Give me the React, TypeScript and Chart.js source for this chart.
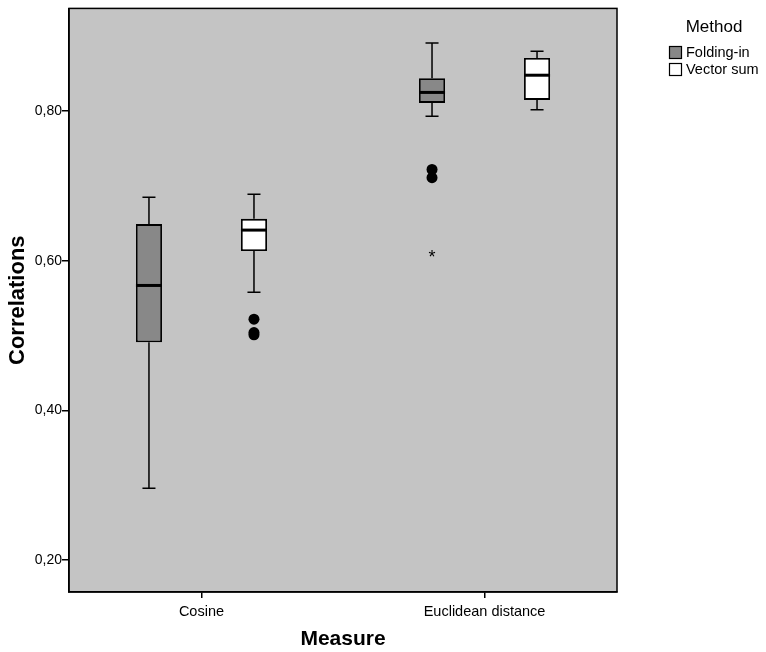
import { useEffect, useRef } from 'react';
import { Chart, registerables } from 'chart.js';

Chart.register(...registerables);

// Box plot summary per measure (Cosine, Euclidean distance)
const categories = ['Cosine', 'Euclidean distance'];
const methods = ['Folding-in', 'Vector sum'];

const foldingMin = [0.296, 0.793];
const foldingQ1 = [0.491, 0.811];
const foldingMedian = [0.567, 0.825];
const foldingQ3 = [0.649, 0.844];
const foldingMax = [0.685, 0.891];
const foldingOutliers = [[], [0.722, 0.711]];
const foldingExtremes = [[], [0.608]];

const vectorMin = [0.558, 0.802];
const vectorQ1 = [0.613, 0.815];
const vectorMedian = [0.641, 0.848];
const vectorQ3 = [0.656, 0.871];
const vectorMax = [0.689, 0.880];
const vectorOutliers = [[0.522, 0.504, 0.501], []];
const vectorExtremes: number[][] = [[], []];

const yTicks = [0.2, 0.4, 0.6, 0.8];

const boxColors = ['#888888', '#ffffff'];
const FONT = "'Liberation Sans', Arial, sans-serif";

const stats = [
  { min: foldingMin, q1: foldingQ1, med: foldingMedian, q3: foldingQ3, max: foldingMax, out: foldingOutliers, ext: foldingExtremes },
  { min: vectorMin, q1: vectorQ1, med: vectorMedian, q3: vectorQ3, max: vectorMax, out: vectorOutliers, ext: vectorExtremes },
];

const plotBackground = {
  id: 'plotBackground',
  beforeDraw(chart: any) {
    const { ctx, chartArea: a } = chart;
    ctx.save();
    ctx.fillStyle = '#c4c4c4';
    ctx.fillRect(a.left, a.top, a.right - a.left, a.bottom - a.top);
    ctx.restore();
  },
  afterDraw(chart: any) {
    const { ctx, chartArea: a } = chart;
    ctx.save();
    ctx.strokeStyle = '#000';
    ctx.lineWidth = 1.5;
    ctx.strokeRect(a.left, a.top, a.right - a.left, a.bottom - a.top);
    ctx.restore();
  },
};

// Whiskers, medians, outliers (circles) and extremes (asterisks)
const boxMarks = {
  id: 'boxMarks',
  beforeDatasetsDraw(chart: any) {
    const { ctx } = chart;
    const y = chart.scales.y;
    ctx.save();
    ctx.strokeStyle = '#000';
    ctx.lineWidth = 1.5;
    stats.forEach((s, di) => {
      const meta = chart.getDatasetMeta(di);
      meta.data.forEach((el: any, i: number) => {
        const cx = el.x;
        const cap = el.width / 2;
        const yMin = y.getPixelForValue(s.min[i]);
        const yMax = y.getPixelForValue(s.max[i]);
        const yQ1 = y.getPixelForValue(s.q1[i]);
        const yQ3 = y.getPixelForValue(s.q3[i]);
        ctx.beginPath();
        ctx.moveTo(cx, yQ3);
        ctx.lineTo(cx, yMax);
        ctx.moveTo(cx - cap / 2, yMax);
        ctx.lineTo(cx + cap / 2, yMax);
        ctx.moveTo(cx, yQ1);
        ctx.lineTo(cx, yMin);
        ctx.moveTo(cx - cap / 2, yMin);
        ctx.lineTo(cx + cap / 2, yMin);
        ctx.stroke();
      });
    });
    ctx.restore();
  },
  afterDatasetsDraw(chart: any) {
    const { ctx } = chart;
    const y = chart.scales.y;
    ctx.save();
    stats.forEach((s, di) => {
      const meta = chart.getDatasetMeta(di);
      meta.data.forEach((el: any, i: number) => {
        const cx = el.x;
        const half = el.width / 2;
        const yMed = y.getPixelForValue(s.med[i]);
        ctx.strokeStyle = '#000';
        ctx.lineWidth = 3;
        ctx.beginPath();
        ctx.moveTo(cx - half, yMed);
        ctx.lineTo(cx + half, yMed);
        ctx.stroke();
        ctx.fillStyle = '#000';
        s.out[i].forEach((v: number) => {
          ctx.beginPath();
          ctx.arc(cx, y.getPixelForValue(v), 5.5, 0, Math.PI * 2);
          ctx.fill();
        });
        ctx.font = `18px ${FONT}`;
        ctx.textAlign = 'center';
        ctx.textBaseline = 'middle';
        s.ext[i].forEach((v: number) => {
          ctx.fillText('*', cx, y.getPixelForValue(v) + 3);
        });
      });
    });
    ctx.restore();
  },
};

const methodLegend = {
  id: 'methodLegend',
  afterDraw(chart: any) {
    const { ctx } = chart;
    ctx.save();
    ctx.fillStyle = '#000';
    ctx.textBaseline = 'middle';
    ctx.textAlign = 'center';
    ctx.font = `17px ${FONT}`;
    ctx.fillText('Method', 714, 27);
    ctx.textAlign = 'left';
    ctx.font = `14.5px ${FONT}`;
    methods.forEach((m, i) => {
      const top = 46 + i * 17;
      ctx.fillStyle = boxColors[i];
      ctx.fillRect(669, top, 13, 13);
      ctx.strokeStyle = '#000';
      ctx.lineWidth = 1.2;
      ctx.strokeRect(669.5, top + 0.5, 12, 12);
      ctx.fillStyle = '#000';
      ctx.fillText(m, 686, top + 7);
    });
    ctx.restore();
  },
};

export default function App() {
  const canvasRef = useRef<HTMLCanvasElement | null>(null);

  useEffect(() => {
    if (!canvasRef.current) return;
    const chart = new Chart(canvasRef.current, {
      type: 'bar',
      data: {
        datasets: methods.map((m, di) => ({
          label: m,
          data: categories.map((_, i) => ({ x: i, y: [stats[di].q1[i], stats[di].q3[i]] })),
          backgroundColor: boxColors[di],
          borderColor: '#000',
          borderWidth: 1.8,
          borderSkipped: false,
          categoryPercentage: 0.742,
          barPercentage: 0.248,
        })) as any,
      },
      options: {
        animation: false,
        responsive: false,
        layout: { padding: { left: 0, top: 7, right: 149, bottom: 0 } },
        plugins: { legend: { display: false }, tooltip: { enabled: false } },
        scales: {
          x: {
            type: 'linear',
            offset: false,
            min: -0.468,
            max: 1.468,
            afterBuildTicks: (scale: any) => {
              scale.ticks = categories.map((_, i) => ({ value: i }));
            },
            afterFit: (scale: any) => {
              scale.height = 60;
            },
            ticks: {
              color: '#000',
              font: { family: FONT, size: 14.5 },
              padding: 5,
              maxRotation: 0,
              callback: (v: any) => categories[v as number] ?? '',
            },
            grid: { offset: false, drawOnChartArea: false, drawTicks: true, tickLength: 6, color: '#000', lineWidth: 1.5 },
            border: { display: true, color: '#000', width: 1.5 },
            title: {
              display: true,
              text: 'Measure',
              color: '#000',
              font: { family: FONT, size: 21, weight: 'bold' },
              padding: { top: 0, bottom: 0 },
            },
          },
          y: {
            type: 'linear',
            min: 0.1573,
            max: 0.9373,
            afterBuildTicks: (scale: any) => {
              scale.ticks = yTicks.map((v) => ({ value: v }));
            },
            afterFit: (scale: any) => {
              scale.width = 69;
            },
            ticks: {
              color: '#000',
              font: { family: FONT, size: 14 },
              padding: 0,
              callback: (v: any) => Number(v).toFixed(2).replace('.', ','),
            },
            grid: { drawOnChartArea: false, drawTicks: true, tickLength: 7, color: '#000', lineWidth: 1.5 },
            border: { display: true, color: '#000', width: 1.5 },
            title: {
              display: true,
              text: 'Correlations',
              color: '#000',
              font: { family: FONT, size: 22, weight: 'bold' },
              padding: { top: 5, bottom: 0 },
            },
          },
        },
      },
      plugins: [plotBackground, boxMarks, methodLegend],
    });
    return () => chart.destroy();
  }, []);

  return (
    <div style={{ position: 'fixed', left: 0, top: 0, width: 766, height: 652, background: '#fff' }}>
      <canvas ref={canvasRef} width={766} height={652} style={{ display: 'block' }} />
    </div>
  );
}
